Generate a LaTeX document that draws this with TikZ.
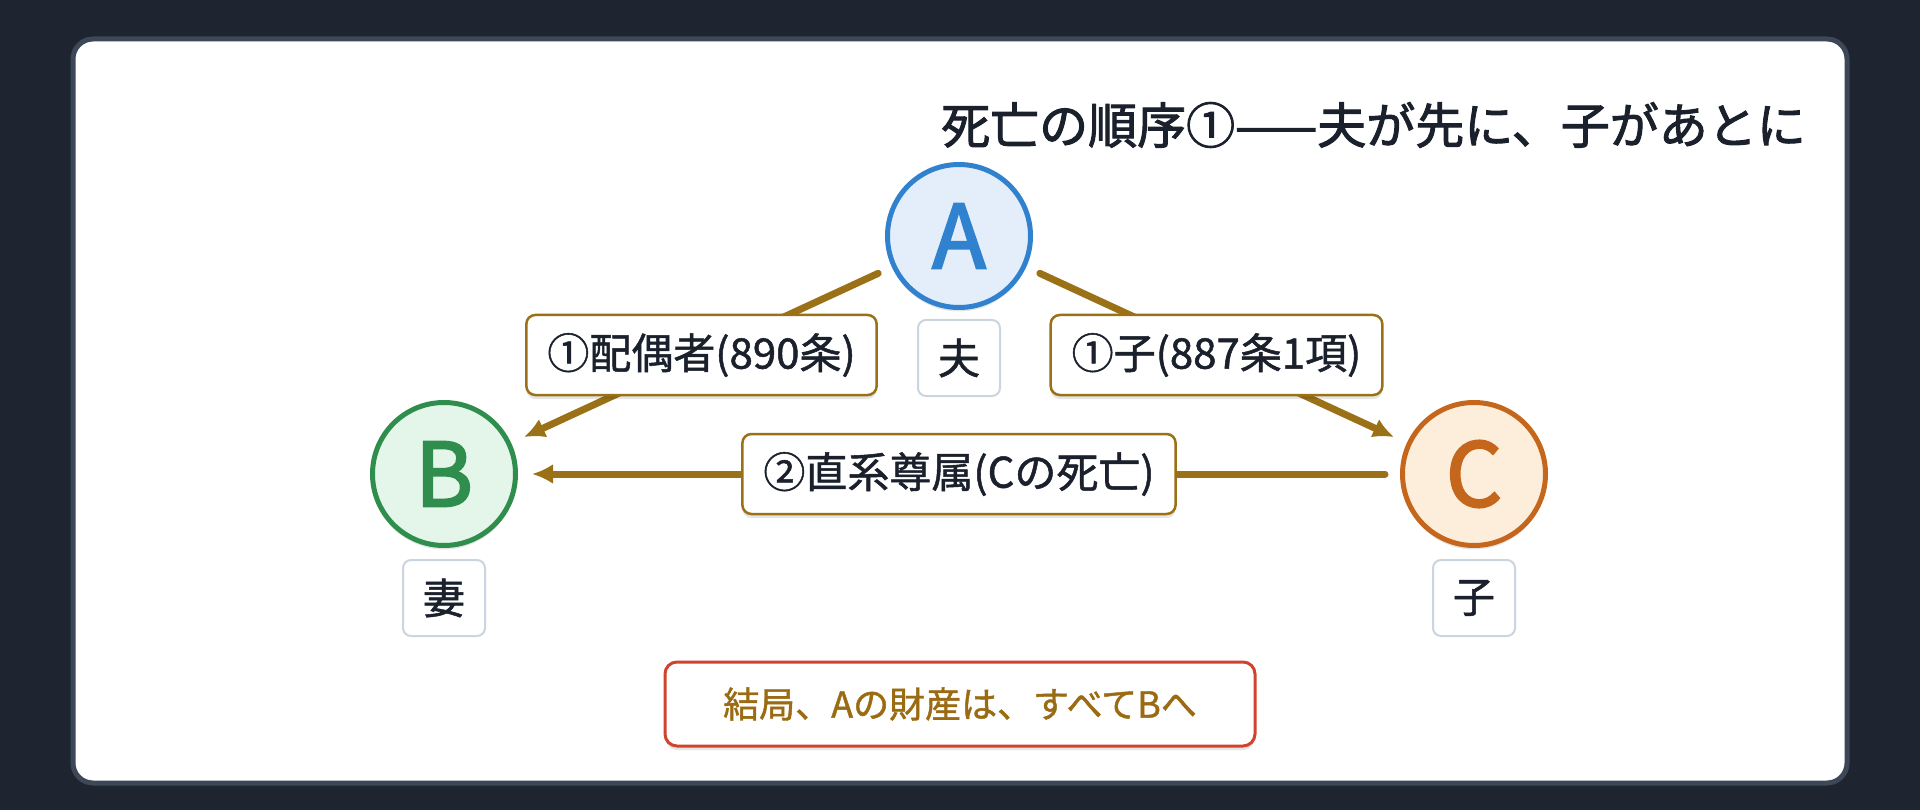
\documentclass[tikz,border=0pt]{standalone}
\usepackage{fontspec}
\setmainfont{Noto Sans CJK JP}
\newfontfamily\mediumcjk{Noto Sans CJK JP}[FakeBold=2]
\newfontfamily\labelcjk{Noto Sans CJK JP}[FakeBold=1.2]
\newfontfamily\lettercjk{Noto Sans CJK JP}[FakeBold=2.6]
\usetikzlibrary{arrows.meta,shadows}
\definecolor{pagedark}{HTML}{1E2530}
\definecolor{cardrim}{HTML}{3C4758}
\definecolor{inkdark}{HTML}{1A202C}
\definecolor{lawbrown}{HTML}{9B7117}
\definecolor{namegray}{HTML}{CBD5E0}
\definecolor{resultred}{HTML}{D0432D}
\definecolor{resultink}{HTML}{9A6B12}
\definecolor{Ablue}{HTML}{3182CE}
\definecolor{Afill}{HTML}{E3EEFA}
\definecolor{Bgreen}{HTML}{2F8D4E}
\definecolor{Bfill}{HTML}{E3F6E9}
\definecolor{Corange}{HTML}{C4661B}
\definecolor{Cfill}{HTML}{FDEDDB}
\begin{document}
\begin{tikzpicture}[x=1pt,y=-1pt,
    softshadow/.style={drop shadow={shadow xshift=0pt,shadow yshift=-4pt,opacity=.10,fill=black}},
    person/.style={circle,draw=#1,line width=5pt,minimum size=143pt,inner sep=0pt,text=#1,
      font=\fontsize{88}{88}\selectfont\lettercjk,softshadow},
    namebox/.style={draw=namegray,fill=white,line width=2pt,rounded corners=8pt,
      minimum width=82pt,minimum height=76pt,inner sep=0pt,text=inkdark,font=\fontsize{42}{42}\selectfont\labelcjk},
    law/.style={draw=lawbrown,line width=7pt,line cap=round,shorten <=15pt,shorten >=14pt},
    lawtip/.style={law,-{Latex[length=21pt,width=20pt]}},
    lawbox/.style={draw=lawbrown,fill=white,line width=2.5pt,rounded corners=9pt,minimum height=80pt,
      inner xsep=21pt,inner ysep=0pt,text=inkdark,font=\fontsize{42}{42}\selectfont\labelcjk,softshadow}]

    \fill[pagedark] (0,0) rectangle (1920,810);
    \draw[cardrim,fill=white,line width=5pt,rounded corners=20pt] (73,39) rectangle (1847,783);

    \node (title) at (1806,125) [anchor=east,inner sep=0pt,text=inkdark,font=\fontsize{49}{49}\selectfont\mediumcjk]
      {死亡の順序①——夫が先に、子があとに};

    \node (A) at (959,236) [person=Ablue,fill=Afill] {A};
    \node (B) at (444,474) [person=Bgreen,fill=Bfill] {B};
    \node (C) at (1474,474) [person=Corange,fill=Cfill] {C};

    \node (husband) at (959,358) [namebox] {夫};
    \node (wife) at (444,598) [namebox] {妻};
    \node (child) at (1474,598) [namebox] {子};

    \draw[lawtip] (A) to node[lawbox] {①配偶者(890条)} (B);
    \draw[lawtip] (A) to node[lawbox] {①子(887条1項)} (C);
    \draw[lawtip] (C) to node[lawbox] {②直系尊属(Cの死亡)} (B);

    \node (result) at (960,704) [draw=resultred,fill=white,line width=3pt,rounded corners=12pt,
      minimum width=590pt,minimum height=84pt,text=resultink,font=\fontsize{36}{36}\selectfont\labelcjk,softshadow]
      {結局、Aの財産は、すべてBへ};
\end{tikzpicture}
\end{document}
